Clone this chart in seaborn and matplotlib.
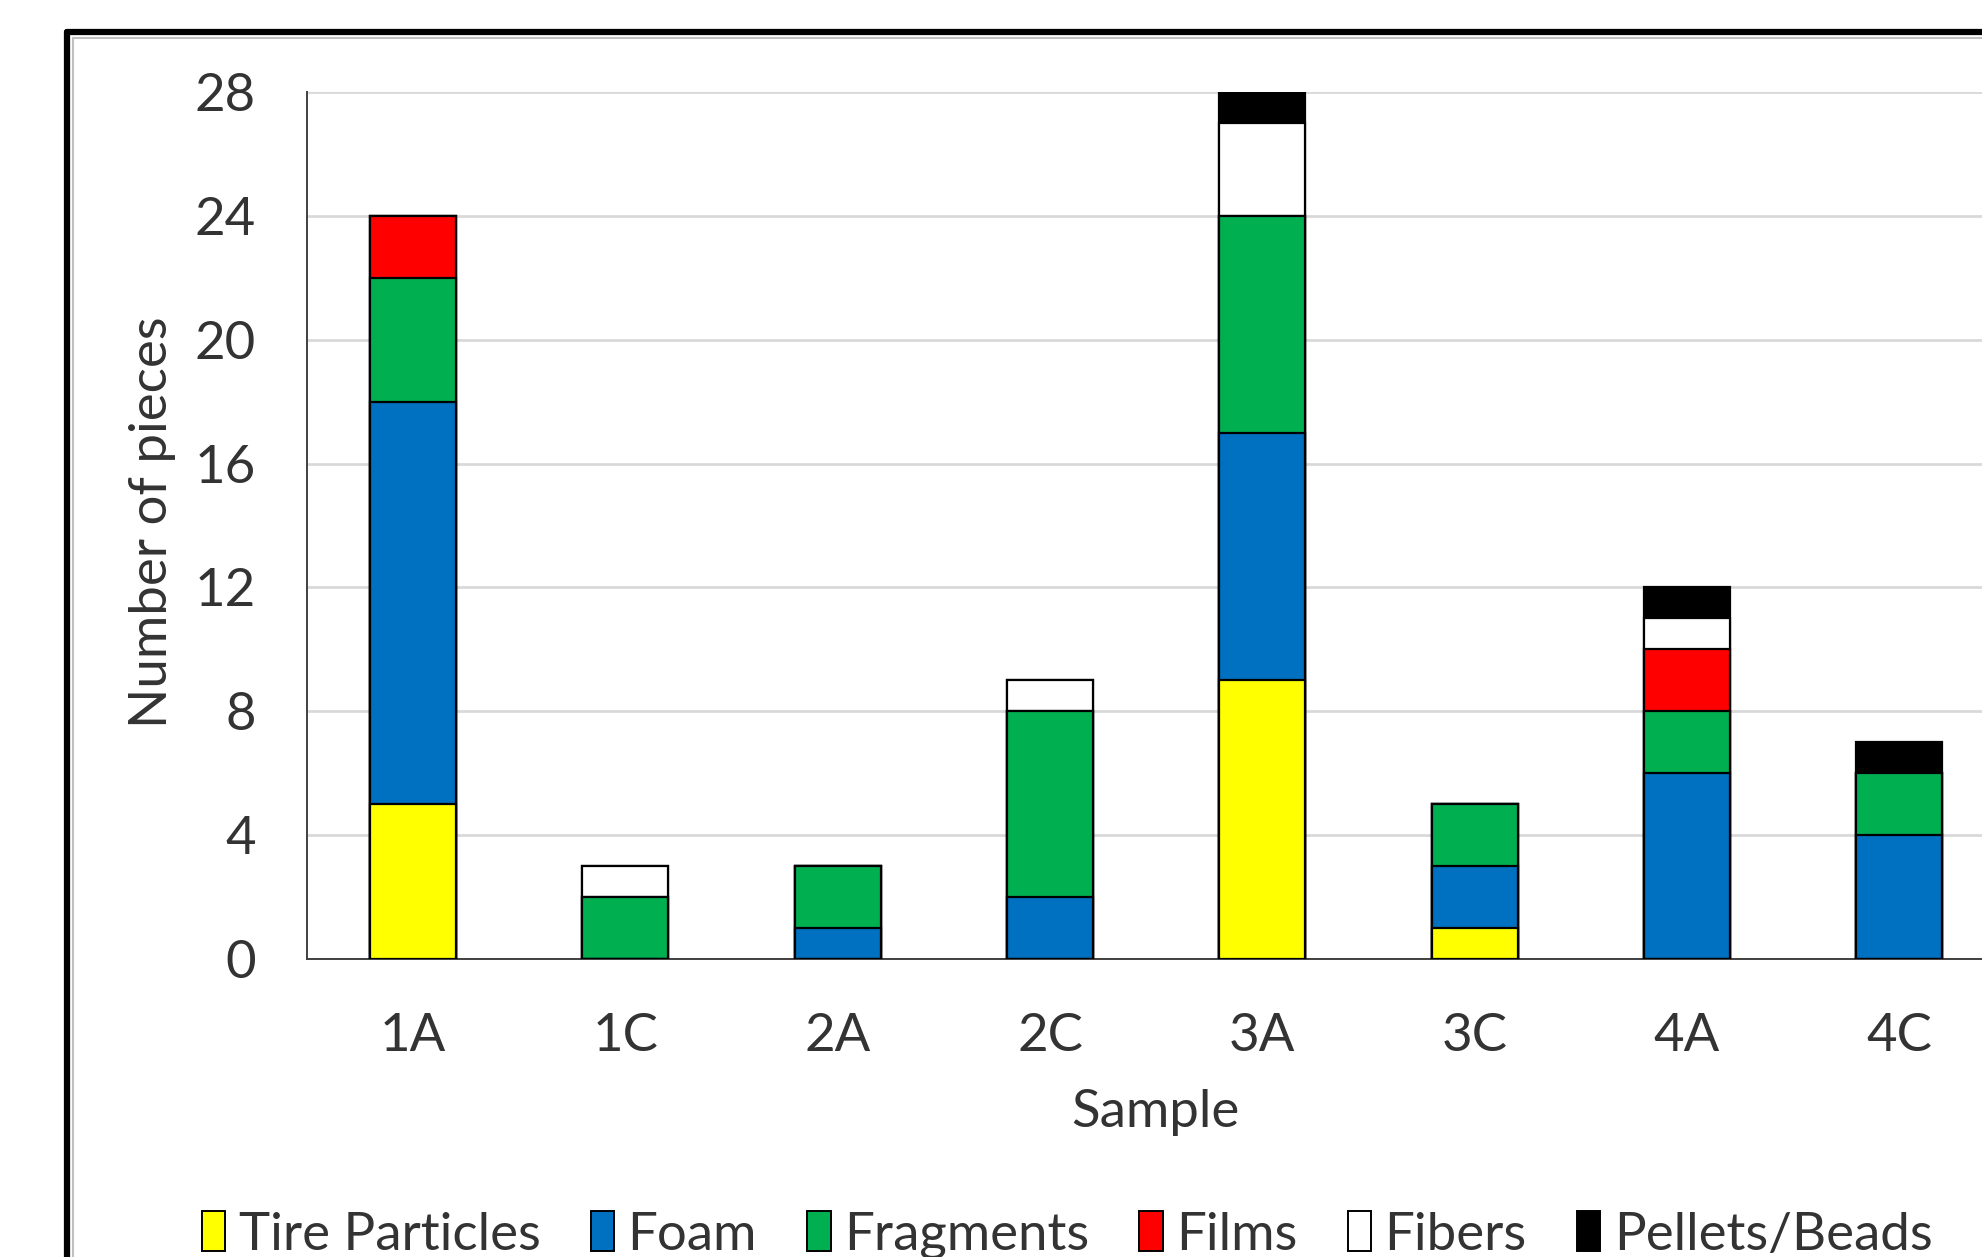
import numpy as np
import pandas as pd
import matplotlib
matplotlib.use("Agg")
import matplotlib.pyplot as plt
from matplotlib.lines import Line2D
from matplotlib.patches import Patch
import seaborn as sns

# Data
samples = ["1A", "1C", "2A", "2C", "3A", "3C", "4A", "4C"]
tire_particles = [5, 0, 0, 0, 9, 1, 0, 0]
foam = [13, 0, 1, 2, 8, 2, 6, 4]
fragments = [4, 2, 2, 6, 7, 2, 2, 2]
films = [2, 0, 0, 0, 0, 0, 2, 0]
fibers = [0, 1, 0, 1, 3, 0, 1, 0]
pellets_beads = [0, 0, 0, 0, 1, 0, 1, 1]

types = ["Tire Particles", "Foam", "Fragments", "Films", "Fibers", "Pellets/Beads"]
colors = ["#FFFF00", "#0070C0", "#00B050", "#FF0000", "#FFFFFF", "#000000"]

df = pd.DataFrame({
    "Sample": samples,
    "Tire Particles": tire_particles,
    "Foam": foam,
    "Fragments": fragments,
    "Films": films,
    "Fibers": fibers,
    "Pellets/Beads": pellets_beads,
})
# cumulative sums for stacking
cum = df[types].cumsum(axis=1)
cum["Sample"] = df["Sample"]

sns.set_style("white")
plt.rcParams["font.family"] = ["Lato", "DejaVu Sans"]
text_col = "#333333"

W, H = 1982, 1257
fig = plt.figure(figsize=(W / 100, H / 100), dpi=100)

# axes placed in pixel terms: y-axis at x=307, zero at y=959, 28 at y=92
unit = 212.3
ax_w = 9 * unit
ax_h = 959 - 92
ax = fig.add_axes([307 / W, (H - 959) / H, ax_w / W, ax_h / H])

# draw from the top of the stack down so lower layers cover upper ones
for t, c in reversed(list(zip(types, colors))):
    sns.barplot(data=cum, x="Sample", y=t, color=c, width=0.405,
                edgecolor="black", linewidth=1.6, saturation=1, ax=ax, zorder=3)

ax.set_xlim(-0.5, 8.5)
ax.set_ylim(0, 28)
ax.set_yticks(range(0, 29, 4))
ax.grid(axis="y", color="#D9D9D9", linewidth=2, zorder=0)
ax.set_axisbelow(True)
for s in ["top", "right"]:
    ax.spines[s].set_visible(False)
ax.spines["left"].set_color("#404040")
ax.spines["left"].set_linewidth(1.4)
ax.spines["bottom"].set_color("#404040")
ax.spines["bottom"].set_linewidth(1.4)
ax.tick_params(length=0, labelsize=38, colors=text_col)
ax.tick_params(axis="y", pad=37)
ax.tick_params(axis="x", pad=39)
ax.set_xlabel("Sample", fontsize=38, color=text_col)
ax.xaxis.set_label_coords((1155 - 307) / ax_w, -(1112 - 959) / ax_h)
ax.xaxis.label.set_va("center")
ax.set_ylabel("Number of pieces", fontsize=38, color=text_col)
ax.yaxis.set_label_coords(-(307 - 152) / ax_w, (959 - 522) / ax_h)
ax.yaxis.label.set_va("center")

handles = [Patch(facecolor=c, edgecolor="black", linewidth=1.4, label=t)
           for t, c in zip(types, colors)]
fig.legend(handles=handles, loc="center", bbox_to_anchor=(1067 / W, (H - 1235) / H),
           ncol=6, frameon=False, fontsize=38, handlelength=0.45, handleheight=0.8,
           handletextpad=0.25, columnspacing=0.95, labelcolor=text_col)

# chart border, cropped at the right and bottom like the screenshot
fig.add_artist(Line2D([67 / W, 67 / W], [0, (H - 32) / H], color="black", lw=4.5))
fig.add_artist(Line2D([67 / W, 1], [(H - 32) / H, (H - 32) / H], color="black", lw=4.5))
fig.add_artist(Line2D([73 / W, 73 / W], [0, (H - 38) / H], color="#C0C0C0", lw=1.5))
fig.add_artist(Line2D([73 / W, 1], [(H - 38) / H, (H - 38) / H], color="#C0C0C0", lw=1.5))

fig.savefig("out.png", dpi=100)
